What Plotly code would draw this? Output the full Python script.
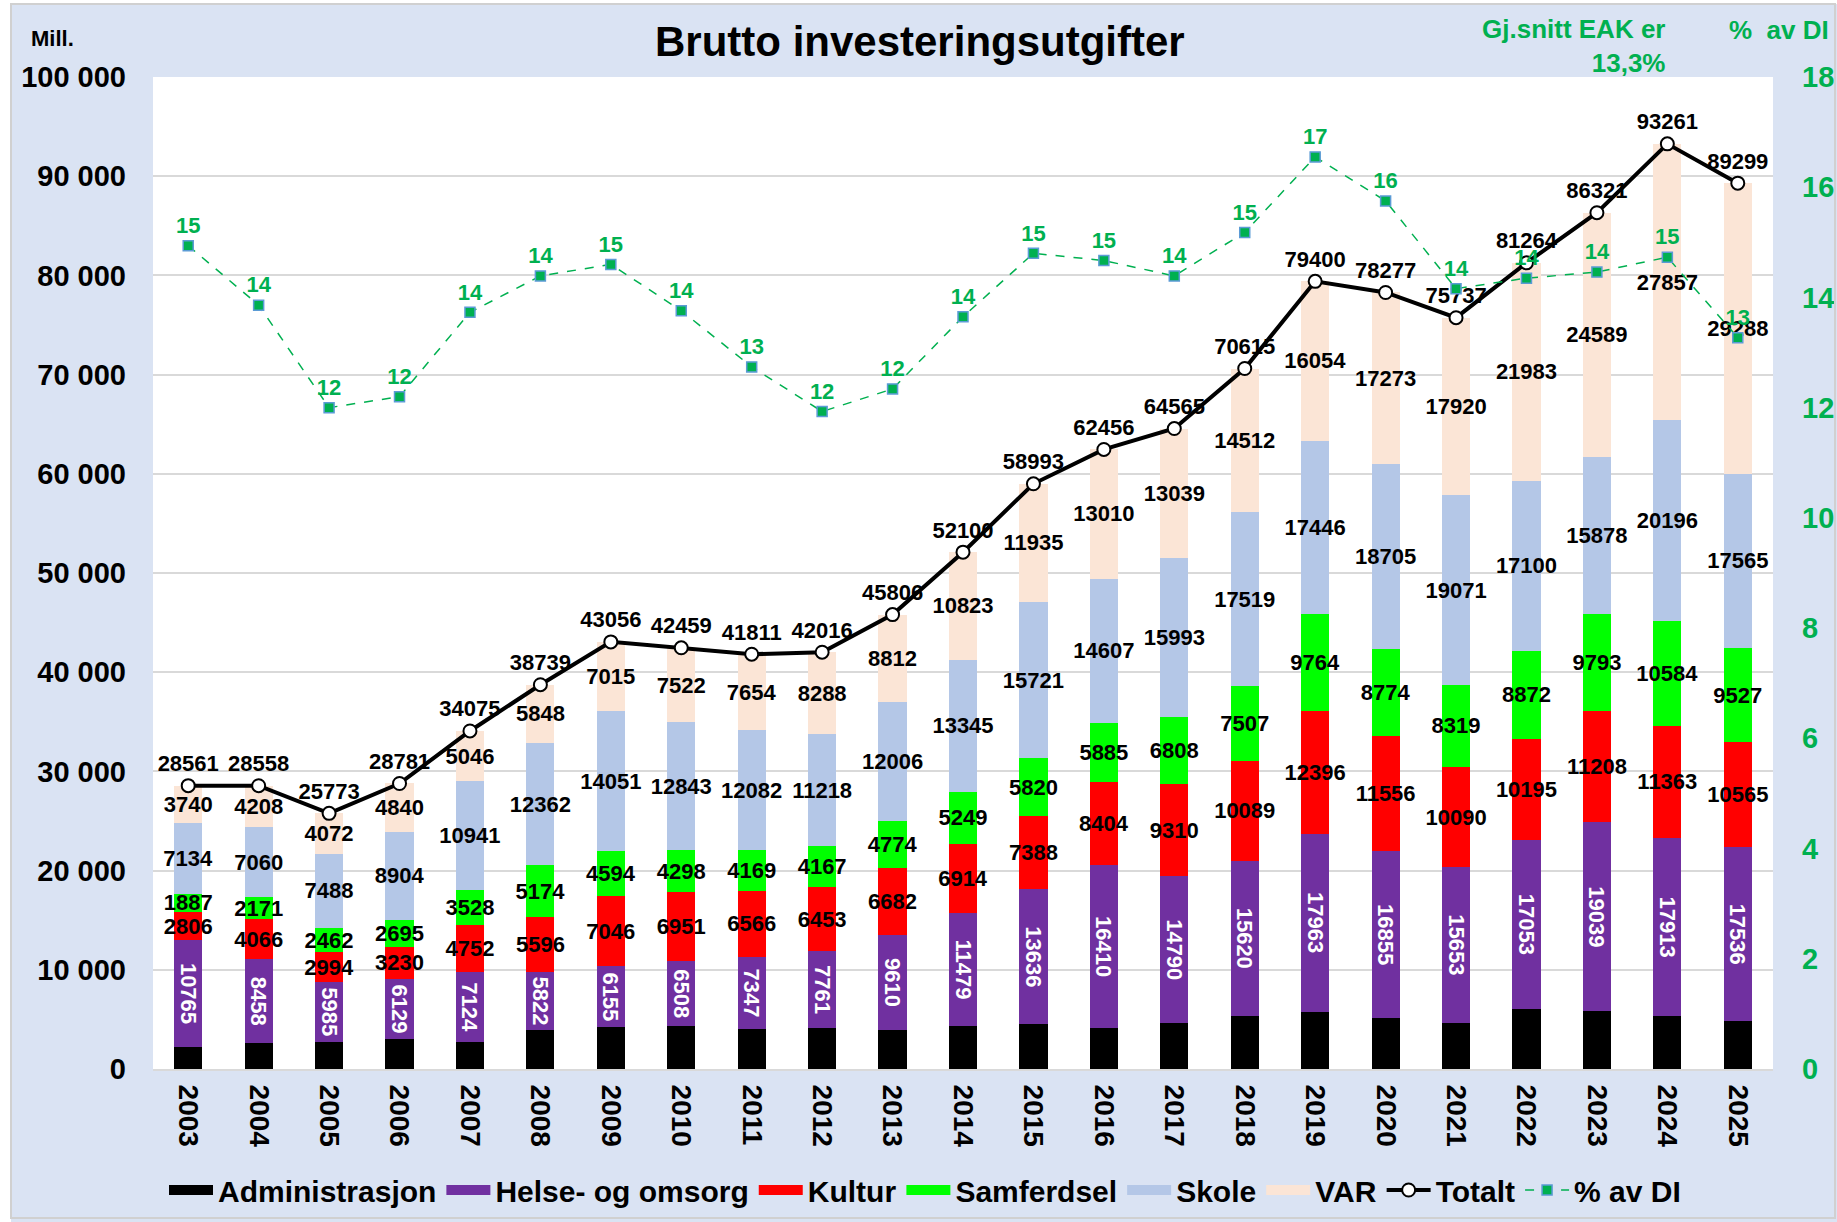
import plotly.graph_objects as go

years = [str(y) for y in range(2003, 2026)]
admin = [2229, 2595, 2772, 2983, 2684, 3937, 4195, 4337, 3993, 4129, 3922, 4290,
         4493, 4140, 4625, 5368, 5777, 5114, 4684, 6061, 5814, 5348, 4818]
helse = [10765, 8458, 5985, 6129, 7124, 5822, 6155, 6508, 7347, 7761, 9610, 11479,
         13636, 16410, 14790, 15620, 17963, 16855, 15653, 17053, 19039, 17913, 17536]
kultur = [2806, 4066, 2994, 3230, 4752, 5596, 7046, 6951, 6566, 6453, 6682, 6914,
          7388, 8404, 9310, 10089, 12396, 11556, 10090, 10195, 11208, 11363, 10565]
samferdsel = [1887, 2171, 2462, 2695, 3528, 5174, 4594, 4298, 4169, 4167, 4774, 5249,
              5820, 5885, 6808, 7507, 9764, 8774, 8319, 8872, 9793, 10584, 9527]
skole = [7134, 7060, 7488, 8904, 10941, 12362, 14051, 12843, 12082, 11218, 12006, 13345,
         15721, 14607, 15993, 17519, 17446, 18705, 19071, 17100, 15878, 20196, 17565]
var = [3740, 4208, 4072, 4840, 5046, 5848, 7015, 7522, 7654, 8288, 8812, 10823,
       11935, 13010, 13039, 14512, 16054, 17273, 17920, 21983, 24589, 27857, 29288]
totalt = [28561, 28558, 25773, 28781, 34075, 38739, 43056, 42459, 41811, 42016, 45806, 52100,
          58993, 62456, 64565, 70615, 79400, 78277, 75737, 81264, 86321, 93261, 89299]
pct_di = [14.94, 13.86, 12.0, 12.2, 13.73, 14.39, 14.6, 13.76, 12.74, 11.93, 12.34, 13.65,
          14.8, 14.67, 14.39, 15.18, 16.55, 15.75, 14.16, 14.35, 14.46, 14.73, 13.27]

FONT = "Liberation Sans, Arial, sans-serif"
GREEN = "#00B050"
PAPER = "#DAE3F3"

W, H = 1837, 1222
L, R, T, B = 153, 64, 77, 153
PW, PH = W - L - R, H - T - B


def px_x(px):
    return (px - L) / PW


def px_y(py):
    return (H - B - py) / PH


fig = go.Figure()

bar_series = [
    ("Administrasjon", admin, "#000000", False, 0, "black"),
    ("Helse- og omsorg", helse, "#7030A0", True, 90, "white"),
    ("Kultur", kultur, "#FF0000", True, 0, "black"),
    ("Samferdsel", samferdsel, "#00FF00", True, 0, "black"),
    ("Skole", skole, "#B4C7E7", True, 0, "black"),
    ("VAR", var, "#FBE5D6", True, 0, "black"),
]

for name, vals, color, show_text, angle, tcolor in bar_series:
    fig.add_trace(go.Bar(
        x=years, y=vals, name=name, legendgroup=name, showlegend=False,
        marker=dict(color=color, line=dict(width=0)),
        text=[str(v) for v in vals] if show_text else None,
        textposition="inside" if show_text else "none",
        insidetextanchor="middle",
        textangle=angle,
        constraintext="none",
        textfont=dict(family=FONT, size=22, color=tcolor, weight="bold"),
        cliponaxis=False,
    ))

# wide rectangular legend swatches for the bar series (legend only, no data)
for name, vals, color, show_text, angle, tcolor in bar_series:
    fig.add_trace(go.Scatter(
        x=[None], y=[None], name=name, legendgroup=name, mode="lines",
        line=dict(color=color, width=15), hoverinfo="skip",
    ))

fig.add_trace(go.Scatter(
    x=years, y=totalt, name="Totalt", mode="lines+markers+text",
    line=dict(color="black", width=4),
    marker=dict(symbol="circle", size=13, color="white", line=dict(color="black", width=2)),
    text=[str(v) for v in totalt], textposition="top center",
    textfont=dict(family=FONT, size=22, color="black", weight="bold"),
    cliponaxis=False,
))

fig.add_trace(go.Scatter(
    x=years, y=pct_di, name="% av DI", mode="lines+markers+text", yaxis="y2",
    line=dict(color=GREEN, width=1.5, dash="dash"),
    marker=dict(symbol="square", size=10, color=GREEN, line=dict(color="#5B9BD5", width=1.5)),
    text=[f"{v:.0f}" for v in pct_di], textposition="top center",
    textfont=dict(family=FONT, size=22, color=GREEN, weight="bold"),
    cliponaxis=False,
))

fig.update_layout(
    width=W, height=H,
    margin=dict(l=L, r=R, t=T, b=B, pad=0, autoexpand=False),
    barmode="stack", bargap=0.6,
    paper_bgcolor=PAPER, plot_bgcolor="white",
    separators=", ",
    font=dict(family=FONT, color="black"),
    showlegend=True,
    legend=dict(orientation="h", x=px_x(925), xanchor="center", y=px_y(1190), yanchor="middle",
                traceorder="normal", bgcolor="rgba(0,0,0,0)",
                font=dict(family=FONT, size=30, color="black", weight="bold"),
                itemwidth=44, tracegroupgap=0),
    xaxis=dict(type="category", range=[-0.5, len(years) - 0.5], tickangle=90,
               showgrid=False, ticks="", ticklabelstandoff=8,
               showline=True, linecolor="#D9D9D9", linewidth=2,
               tickfont=dict(family=FONT, size=28, color="black", weight="bold")),
    yaxis=dict(range=[0, 100000], dtick=10000, tickformat=",", showgrid=True,
               gridcolor="#D9D9D9", gridwidth=2, zeroline=False, ticks="",
               ticklabelstandoff=26,
               tickfont=dict(family=FONT, size=29, color="black", weight="bold")),
    yaxis2=dict(range=[0, 18], dtick=2, overlaying="y", side="right", showgrid=False,
                zeroline=False, ticks="", ticklabelstandoff=28,
                tickfont=dict(family=FONT, size=29, color=GREEN, weight="bold")),
    shapes=[
        dict(type="rect", xref="paper", yref="paper", x0=px_x(0), x1=px_x(11),
             y0=px_y(H), y1=px_y(0), fillcolor="white", line=dict(width=0), layer="below"),
        dict(type="rect", xref="paper", yref="paper", x0=px_x(0), x1=px_x(W),
             y0=px_y(4), y1=px_y(0), fillcolor="white", line=dict(width=0), layer="below"),
        dict(type="rect", xref="paper", yref="paper", x0=px_x(11), x1=px_x(1835),
             y0=px_y(1218), y1=px_y(4), fillcolor="rgba(0,0,0,0)",
             line=dict(color="#D0D0D0", width=2), layer="above"),
    ],
    annotations=[
        dict(text="Brutto investeringsutgifter", x=px_x(920), y=px_y(42), xref="paper", yref="paper",
             xanchor="center", yanchor="middle", showarrow=False,
             font=dict(family=FONT, size=42, color="black", weight="bold")),
        dict(text="Mill.", x=px_x(29), y=px_y(38), xref="paper", yref="paper",
             xanchor="left", yanchor="middle", showarrow=False,
             font=dict(family=FONT, size=22, color="black", weight="bold")),
        dict(text="Gj.snitt EAK er<br>13,3%", x=px_x(1667), y=px_y(46), xref="paper", yref="paper",
             xanchor="right", yanchor="middle", align="right", showarrow=False,
             font=dict(family=FONT, size=26, color=GREEN, weight="bold")),
        dict(text="%  av DI", x=px_x(1727), y=px_y(30), xref="paper", yref="paper",
             xanchor="left", yanchor="middle", showarrow=False,
             font=dict(family=FONT, size=26, color=GREEN, weight="bold")),
    ],
)

fig.write_html("out.html", config={"displayModeBar": False},
               post_script="document.body.style.margin='0';document.body.style.overflow='hidden';")
